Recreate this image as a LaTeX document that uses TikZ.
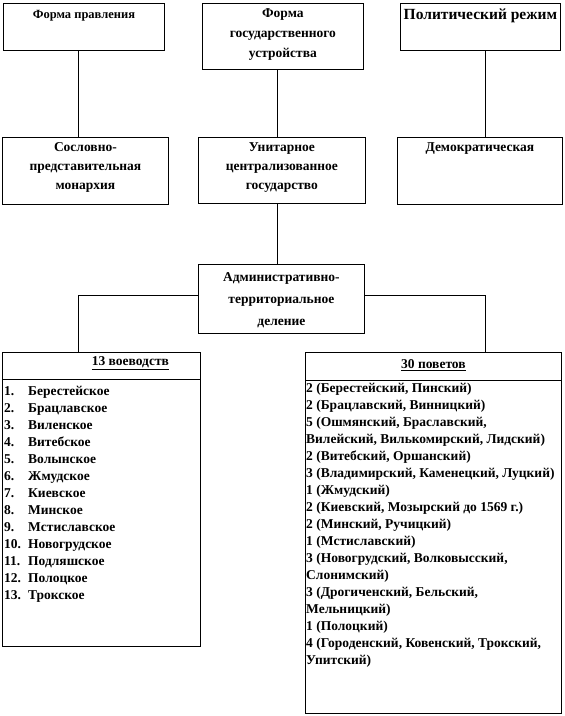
\documentclass[tikz,border=0pt]{standalone}
\usepackage{fontspec}
\setmainfont{Liberation Serif}
\usepackage{tikz}
\usetikzlibrary{positioning,calc}
\newcommand{\cellbox}[3]{\parbox[t][#2][t]{#1}{\centering #3}}
\newcommand{\num}[1]{\makebox[24pt][l]{#1}}

\begin{document}
\begin{tikzpicture}[x=1pt, y=-1pt,
    cell/.style={draw, thick, anchor=north west, inner sep=0pt, font=\bfseries},
    big/.style={font={\bfseries\fontsize{13.5}{20}\selectfont}},
    listtext/.style={anchor=north west, inner sep=0pt, align=left,
      font={\bfseries\fontsize{13.5}{17}\selectfont}}]
        % Page frame
        \useasboundingbox (0,0) rectangle (565,716);
        \coordinate (lcol) at (78,0);
        \coordinate (mcol) at (277,0);
        \coordinate (rcol) at (485,0);
        % Top row
        \node[cell, font={\bfseries\fontsize{12.5}{15}\selectfont}] (fp) at (3,3)
          {\cellbox{161pt}{47pt}{\vspace{7pt}Форма правления}};
        \node[cell, big] (fu) at (202,3)
          {\cellbox{161pt}{66pt}{\vspace{5pt}Форма\\государственного\\устройства}};
        \node[cell, font={\bfseries\fontsize{15.5}{18}\selectfont}] (pr) at (400,3)
          {\cellbox{160pt}{47pt}{\vspace{5pt}Политический режим}};
        % Second row
        \node[cell, font={\bfseries\fontsize{13.5}{19}\selectfont}] (sp) at (2,137)
          {\cellbox{166pt}{67pt}{\vspace{5pt}Сословно-\\представительная\\монархия}};
        \node[cell, font={\bfseries\fontsize{13.5}{19}\selectfont}] (un) at (198,137)
          {\cellbox{167pt}{66pt}{\vspace{5pt}Унитарное\\централизованное\\государство}};
        \node[cell, font={\bfseries\fontsize{13.5}{19}\selectfont}] (dm) at (397,137)
          {\cellbox{165pt}{67pt}{\vspace{5pt}Демократическая}};
        % Administrative division
        \node[cell, font={\bfseries\fontsize{13.5}{22}\selectfont}] (adm) at (198,264)
          {\cellbox{166pt}{69pt}{\vspace{8pt}Административно-\\территориальное\\деление}};
        % Voivodeships
        \node[cell, big] (vvh) at (2,352)
          {\cellbox{198pt}{27pt}{\vspace{4pt}\hspace*{58pt}\underline{13 воеводств}}};
        \node[cell, minimum width=198, minimum height=267] (vvb) at (2,379) {};
        \node[listtext] (vvl) at (4,386)
          {\num{1.}Берестейское\\ \num{2.}Брацлавское\\ \num{3.}Виленское\\
           \num{4.}Витебское\\ \num{5.}Волынское\\ \num{6.}Жмудское\\
           \num{7.}Киевское\\ \num{8.}Минское\\ \num{9.}Мстиславское\\
           \num{10.}Новогрудское\\ \num{11.}Подляшское\\ \num{12.}Полоцкое\\
           \num{13.}Трокское};
        % Districts
        \node[cell, big] (pvh) at (305,352)
          {\cellbox{256pt}{28pt}{\vspace{7pt}\underline{30 поветов}}};
        \node[cell, minimum width=256, minimum height=333] (pvb) at (305,380) {};
        \node[listtext] (pvl) at (306,383)
          {2 (Берестейский, Пинский)\\
           2 (Брацлавский, Винницкий)\\
           5 (Ошмянский, Браславский,\\
           Вилейский, Вилькомирский, Лидский)\\
           2 (Витебский, Оршанский)\\
           3 (Владимирский, Каменецкий, Луцкий)\\
           1 (Жмудский)\\
           2 (Киевский, Мозырский до 1569 г.)\\
           2 (Минский, Ручицкий)\\
           1 (Мстиславский)\\
           3 (Новогрудский, Волковысский,\\
           Слонимский)\\
           3 (Дрогиченский, Бельский,\\
           Мельницкий)\\
           1 (Полоцкий)\\
           4 (Городенский, Ковенский, Трокский,\\
           Упитский)};
        % Connectors
        \draw[thick] (fp.south -| lcol) -- (sp.north -| lcol);
        \draw[thick] (fu.south -| mcol) -- (un.north -| mcol);
        \draw[thick] (pr.south -| rcol) -- (dm.north -| rcol);
        \draw[thick] (un.south -| mcol) -- (adm.north -| mcol);
        \draw[thick] ([yshift=4pt]adm.west) -| (vvh.north -| lcol);
        \draw[thick] ([yshift=4pt]adm.east) -| (pvh.north -| rcol);
      \end{tikzpicture}
\end{document}
